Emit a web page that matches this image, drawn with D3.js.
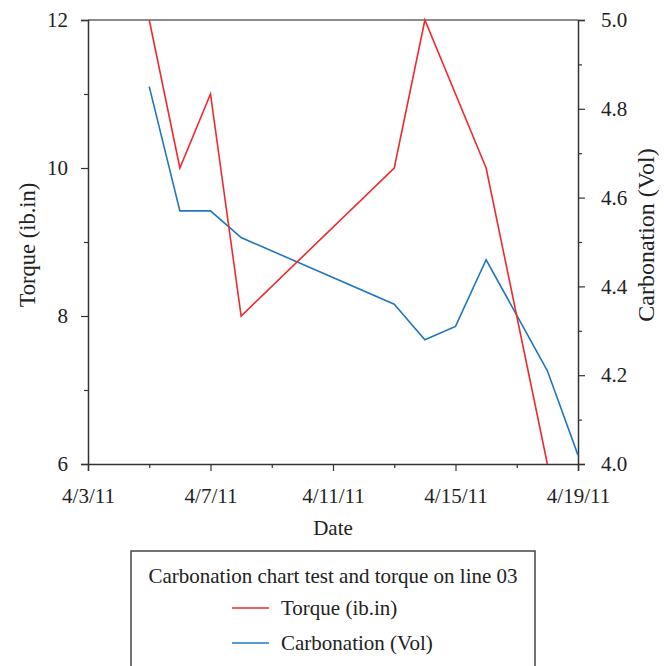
<!DOCTYPE html>
<html>
<head>
<meta charset="utf-8">
<script src="https://cdn.jsdelivr.net/npm/d3@7"></script>
<style>
  body { margin: 0; background: #fff; }
  text { font-family: "Liberation Serif", "Times New Roman", serif; fill: #222; }
</style>
</head>
<body>
<div id="chart"></div>
<script>
// data
var torqueDates = ["2011-04-05", "2011-04-06", "2011-04-07", "2011-04-08", "2011-04-13", "2011-04-14", "2011-04-16", "2011-04-18"];
var torqueValues = [12, 10, 11, 8, 10, 12, 10, 6];
var carbDates = ["2011-04-05", "2011-04-06", "2011-04-07", "2011-04-08", "2011-04-13", "2011-04-14", "2011-04-15", "2011-04-16", "2011-04-18", "2011-04-19"];
var carbValues = [4.85, 4.57, 4.57, 4.51, 4.36, 4.28, 4.31, 4.46, 4.21, 4.02];
var xTickDates = ["2011-04-03", "2011-04-07", "2011-04-11", "2011-04-15", "2011-04-19"];
var xMinorDates = ["2011-04-05", "2011-04-09", "2011-04-13", "2011-04-17"];
var leftTicks = [6, 8, 10, 12];
var leftMinor = [7, 9, 11];
var rightTicks = [4.0, 4.2, 4.4, 4.6, 4.8, 5.0];
var rightMinor = [4.1, 4.3, 4.5, 4.7, 4.9];

var legendTitle = "Carbonation chart test and torque on line 03";
var seriesNames = ["Torque (ib.in)", "Carbonation (Vol)"];
var seriesColors = ["#ee2a2f", "#1f77c0"];

const width = 664, height = 666;
const margin = {left: 88, top: 20, right: 86, bottom: 202};
const fontSize = "21px";
const parse = d3.utcParse("%Y-%m-%d");
const fmt = d3.utcFormat("%-m/%-d/%y");

var svg = d3.select("#chart").append("svg")
    .attr("width", width)
    .attr("height", height);

var x = d3.scaleUtc()
    .domain([parse("2011-04-03"), parse("2011-04-19")])
    .range([margin.left, width - margin.right]);
var yL = d3.scaleLinear().domain([6, 12]).range([height - margin.bottom, margin.top]);
var yR = d3.scaleLinear().domain([4.0, 5.0]).range([height - margin.bottom, margin.top]);

// top frame line
svg.append("line")
    .attr("x1", margin.left).attr("x2", width - margin.right)
    .attr("y1", margin.top).attr("y2", margin.top)
    .attr("stroke", "#666").attr("stroke-width", 1.5);

function styleAxis(g) {
    g.attr("font-family", null).attr("font-size", null);
    g.selectAll("path.domain").attr("stroke", "#333").attr("stroke-width", 1.5);
    g.selectAll(".tick line").attr("stroke", "#333").attr("stroke-width", 1.2);
    g.selectAll("text").style("font-family", "'Liberation Serif', serif").style("font-size", fontSize).attr("fill", "#222");
}

// x axis
svg.append("g")
    .attr("transform", `translate(0,${height - margin.bottom})`)
    .call(d3.axisBottom(x).tickValues(xTickDates.map(parse)).tickFormat(fmt).tickSize(7).tickPadding(17))
    .call(styleAxis);
svg.append("g")
    .attr("transform", `translate(0,${height - margin.bottom})`)
    .call(d3.axisBottom(x).tickValues(xMinorDates.map(parse)).tickFormat("").tickSize(4))
    .call(styleAxis)
    .select("path.domain").remove();

// left axis
svg.append("g")
    .attr("transform", `translate(${margin.left},0)`)
    .call(d3.axisLeft(yL).tickValues(leftTicks).tickFormat(d3.format("d")).tickSize(7).tickPadding(13))
    .call(styleAxis);
svg.append("g")
    .attr("transform", `translate(${margin.left},0)`)
    .call(d3.axisLeft(yL).tickValues(leftMinor).tickFormat("").tickSize(4))
    .call(styleAxis)
    .select("path.domain").remove();

// right axis
svg.append("g")
    .attr("transform", `translate(${width - margin.right},0)`)
    .call(d3.axisRight(yR).tickValues(rightTicks).tickFormat(d3.format(".1f")).tickSize(7).tickPadding(16))
    .call(styleAxis);
svg.append("g")
    .attr("transform", `translate(${width - margin.right},0)`)
    .call(d3.axisRight(yR).tickValues(rightMinor).tickFormat("").tickSize(4))
    .call(styleAxis)
    .select("path.domain").remove();

// axis titles
svg.append("text")
    .attr("x", (margin.left + width - margin.right) / 2)
    .attr("y", 535)
    .attr("text-anchor", "middle")
    .style("font-size", fontSize)
    .text("Date");

svg.append("text")
    .attr("transform", "translate(35,245) rotate(-90)")
    .attr("text-anchor", "middle")
    .style("font-size", "22.5px")
    .text("Torque (ib.in)");

svg.append("text")
    .attr("transform", "translate(654,235) rotate(-90)")
    .attr("text-anchor", "middle")
    .style("font-size", "24px")
    .text("Carbonation (Vol)");

// lines
var torque = torqueDates.map((d, i) => ({date: parse(d), val: torqueValues[i]}));
var carb = carbDates.map((d, i) => ({date: parse(d), val: carbValues[i]}));

svg.append("path")
    .datum(carb)
    .attr("fill", "none")
    .attr("stroke", seriesColors[1])
    .attr("stroke-width", 1.6)
    .attr("d", d3.line().x(d => x(d.date)).y(d => yR(d.val)));

svg.append("path")
    .datum(torque)
    .attr("fill", "none")
    .attr("stroke", seriesColors[0])
    .attr("stroke-width", 1.6)
    .attr("d", d3.line().x(d => x(d.date)).y(d => yL(d.val)));

// legend
var legend = svg.append("g");
legend.append("rect")
    .attr("x", 131).attr("y", 551)
    .attr("width", 404).attr("height", 130)
    .attr("fill", "#fff")
    .attr("stroke", "#444").attr("stroke-width", 1.5);
legend.append("text")
    .attr("x", 333).attr("y", 583)
    .attr("text-anchor", "middle")
    .style("font-size", fontSize)
    .text(legendTitle);

seriesNames.forEach(function(name, i) {
    var yy = 608 + i * 35;
    legend.append("line")
        .attr("x1", 232).attr("x2", 269)
        .attr("y1", yy).attr("y2", yy)
        .attr("stroke", seriesColors[i]).attr("stroke-width", 1.6);
    legend.append("text")
        .attr("x", 281).attr("y", yy + 7)
        .style("font-size", fontSize)
        .text(name);
});
</script>
</body>
</html>
